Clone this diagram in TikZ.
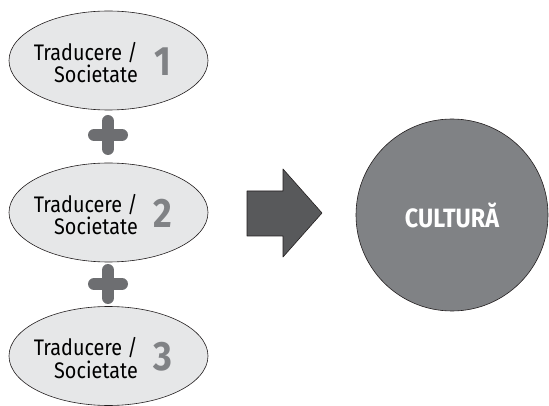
\documentclass[tikz,border=0pt]{standalone}
\usepackage{fontspec}
\setmainfont{Fira Sans}[FakeStretch=0.88]
\usetikzlibrary{shapes.geometric}
\definecolor{ellfill}{HTML}{E6E7E8}
\definecolor{numgray}{HTML}{808285}
\definecolor{plusgray}{HTML}{6D6E71}
\definecolor{arrowgray}{HTML}{58595B}
\definecolor{circgray}{HTML}{808285}
\definecolor{outline}{HTML}{231F20}
\tikzset{
  x=1pt, y=-1pt,
  ell/.style={ellipse, draw=outline, line width=0.6pt, fill=ellfill, minimum width=199pt, minimum height=99pt, inner sep=0pt},
  lbl/.style={align=right, font=\fontsize{22.5}{22.5}\selectfont, text=black, inner sep=0pt},
  num/.style={font=\fontsize{41}{41}\selectfont\bfseries, text=numgray, inner sep=0pt},
  plusbar/.style={line width=12pt, line cap=round, draw=plusgray},
}
\begin{document}
\begin{tikzpicture}
\useasboundingbox (0,0) rectangle (549,406);
% ellipses
\node[ell] (e1) at (108.5,60.5) {};
\node[ell] (e2) at (108.5,212.5) {};
\node[ell] (e3) at (108.5,356) {};
\foreach \i/\y in {1/60.5,2/212.5,3/356}{
  \node[lbl, anchor=east] (t\i) at (138,\y+2) {Traducere /\\Societate};
  \node[num] (n\i) at (163,\y+1) {\i};
}
% plus signs
\foreach \y [count=\k] in {135,284}{
  \coordinate (p\k l) at (94,\y);
  \coordinate (p\k r) at (122,\y);
  \coordinate (p\k t) at (108,\y-14);
  \coordinate (p\k b) at (108,\y+14);
  \draw[plusbar] (p\k l) -- (p\k r);
  \draw[plusbar] (p\k t) -- (p\k b);
}
% arrow
\coordinate (a1) at (247,191);
\coordinate (a2) at (283,191);
\coordinate (a3) at (283,169);
\coordinate (a4) at (322,213);
\coordinate (a5) at (283,257);
\coordinate (a6) at (283,236);
\coordinate (a7) at (247,236);
\draw[outline, line width=0.6pt, fill=arrowgray, line join=round] (a1) -- (a2) -- (a3) -- (a4) -- (a5) -- (a6) -- (a7) -- cycle;
% circle
\node[circle, draw=outline, line width=0.6pt, fill=circgray, minimum size=192pt, inner sep=0pt,
  font=\fontsize{26.5}{26.5}\selectfont\bfseries, text=white] (c) at (452,215) {CULTURĂ};
\end{tikzpicture}
\end{document}
